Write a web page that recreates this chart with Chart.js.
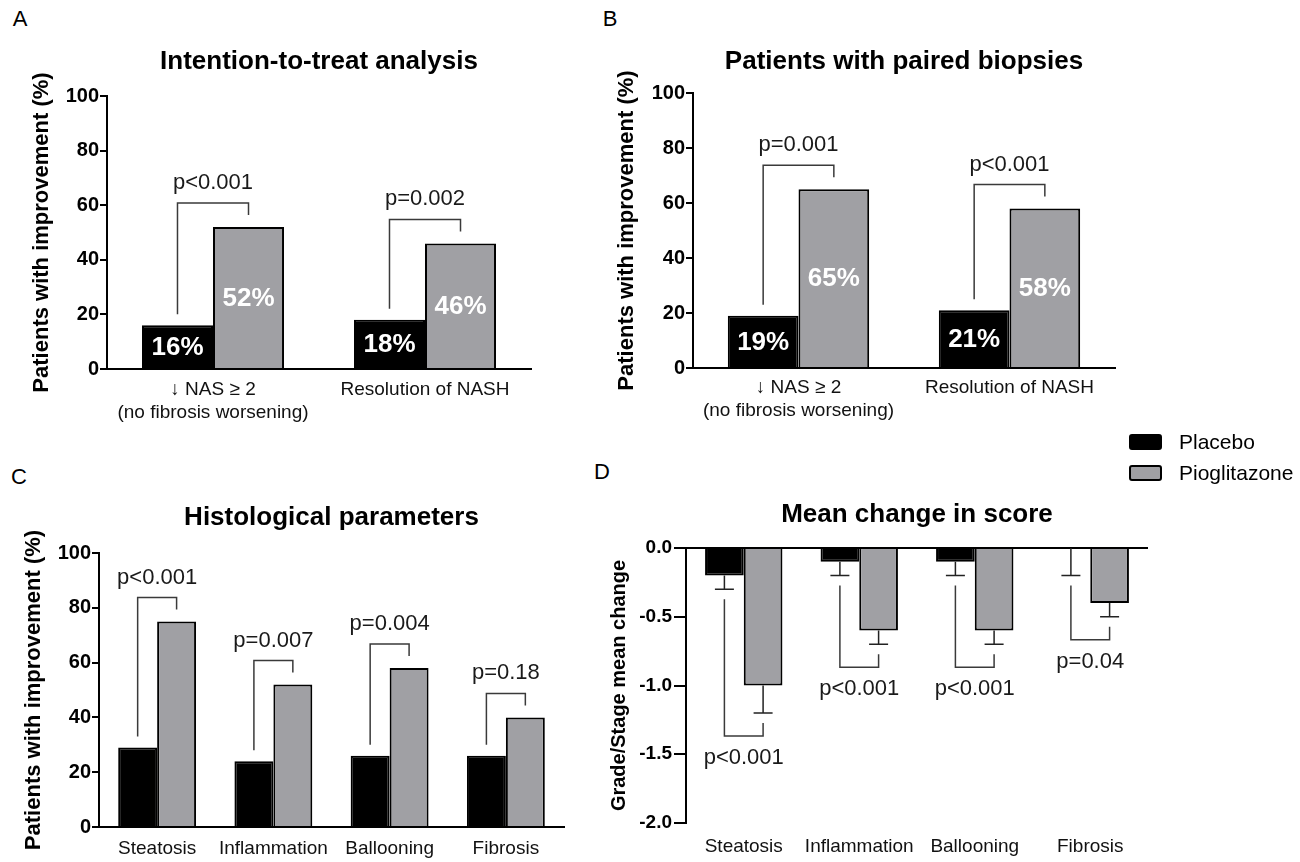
<!DOCTYPE html>
<html>
<head>
<meta charset="utf-8">
<title>Pioglitazone vs placebo</title>
<script src="https://cdn.jsdelivr.net/npm/chart.js@4.4.1/dist/chart.umd.min.js"></script>
<style>
  body { margin: 0; background: #fff; width: 1300px; height: 862px; position: relative; overflow: hidden;
         font-family: "Liberation Sans", Arial, Helvetica, sans-serif; }
  canvas { position: absolute; }
  .letter { position: absolute; font-size: 22px; color: #000; transform: translate(-50%, -50%); line-height: 1; }
</style>
</head>
<body>
<div class="letter" style="left:20px;top:19px">A</div>
<div class="letter" style="left:610px;top:19px">B</div>
<div class="letter" style="left:19px;top:477px">C</div>
<div class="letter" style="left:602px;top:472px">D</div>

<canvas id="chartA" width="560" height="430" style="left:0;top:0"></canvas>
<canvas id="chartB" width="740" height="430" style="left:560px;top:0"></canvas>
<canvas id="chartC" width="580" height="432" style="left:0;top:430px"></canvas>
<canvas id="chartD" width="720" height="432" style="left:580px;top:430px"></canvas>

<script>
const FONT = '"Liberation Sans", Arial, Helvetica, sans-serif';
Chart.defaults.font.family = FONT;
Chart.defaults.color = '#000';

// Серии
const seriesNames = ['Placebo', 'Pioglitazone'];
const seriesColors = ['#000000', '#a0a0a4'];

// A - intention-to-treat
const catsA = [['\u2193 NAS \u2265 2', '(no fibrosis worsening)'], 'Resolution of NASH'];
const placeboA = [16, 18];
const pioA = [52, 46];
const pvalA = ['p<0.001', 'p=0.002'];

// B - paired biopsies
const catsB = [['\u2193 NAS \u2265 2', '(no fibrosis worsening)'], 'Resolution of NASH'];
const placeboB = [19, 21];
const pioB = [65, 58];
const pvalB = ['p=0.001', 'p<0.001'];

// C - histological parameters
const catsC = ['Steatosis', 'Inflammation', 'Ballooning', 'Fibrosis'];
const placeboC = [29, 24, 26, 26];
const pioC = [75, 52, 58, 40];
const pvalC = ['p<0.001', 'p=0.007', 'p=0.004', 'p=0.18'];

// D - mean change in score
const catsD = ['Steatosis', 'Inflammation', 'Ballooning', 'Fibrosis'];
const placeboD = [-0.2, -0.1, -0.1, 0];
const pioD = [-1.0, -0.6, -0.6, -0.4];
const placeboErrD = [0.1, 0.1, 0.1, 0.2];
const pioErrD = [0.2, 0.1, 0.1, 0.1];
const pvalD = ['p<0.001', 'p<0.001', 'p<0.001', 'p=0.04'];

// Подписи процентов внутри столбцов
const barLabels = {
    id: 'barLabels',
    afterDatasetsDraw(chart, args, opts) {
        if (!opts.show) return;
        const ctx = chart.ctx;
        ctx.save();
        ctx.font = 'bold 26px ' + FONT;
        ctx.fillStyle = '#fff';
        ctx.textAlign = 'center';
        ctx.textBaseline = 'middle';
        chart.data.datasets.forEach((ds, i) => {
            chart.getDatasetMeta(i).data.forEach((bar, j) => {
                ctx.fillText(ds.data[j] + '%', bar.x, (bar.y + bar.base) / 2 + 1);
            });
        });
        ctx.restore();
    }
};

// Планки погрешностей (вниз)
const errorBars = {
    id: 'errorBars',
    afterDatasetsDraw(chart) {
        const ctx = chart.ctx;
        const y = chart.scales.y;
        ctx.save();
        ctx.strokeStyle = '#222';
        ctx.lineWidth = 1.5;
        chart.data.datasets.forEach((ds, i) => {
            if (!ds.errors) return;
            chart.getDatasetMeta(i).data.forEach((bar, j) => {
                const end = y.getPixelForValue(ds.data[j] - ds.errors[j]);
                ctx.beginPath();
                ctx.moveTo(bar.x, bar.y);
                ctx.lineTo(bar.x, end);
                ctx.moveTo(bar.x - 9.5, end);
                ctx.lineTo(bar.x + 9.5, end);
                ctx.stroke();
            });
        });
        ctx.restore();
    }
};

// Скобки с p-значениями
const brackets = {
    id: 'brackets',
    afterDatasetsDraw(chart, args, opts) {
        if (!opts.labels) return;
        const ctx = chart.ctx;
        const y = chart.scales.y;
        const [d0, d1] = chart.data.datasets;
        const m0 = chart.getDatasetMeta(0).data;
        const m1 = chart.getDatasetMeta(1).data;
        ctx.save();
        ctx.strokeStyle = '#3a3a3a';
        ctx.lineWidth = 1.5;
        ctx.fillStyle = '#1a1a1a';
        ctx.font = '22px ' + FONT;
        ctx.textAlign = 'center';
        ctx.textBaseline = 'middle';
        opts.labels.forEach((txt, j) => {
            const a = m0[j], b = m1[j];
            let ya, yb, yc, yt;
            if (opts.down) {
                ya = y.getPixelForValue(d0.data[j] - d0.errors[j]) + 10;
                yb = y.getPixelForValue(d1.data[j] - d1.errors[j]) + 10;
                yc = Math.max(ya, yb) + 13;
                yt = yc + 22;
            } else {
                ya = a.y - 11;
                yb = b.y - 12;
                yc = Math.min(a.y, b.y) - 24;
                yt = yc - 20;
            }
            ctx.beginPath();
            ctx.moveTo(a.x, ya);
            ctx.lineTo(a.x, yc);
            ctx.lineTo(b.x, yc);
            ctx.lineTo(b.x, yb);
            ctx.stroke();
            ctx.fillText(txt, (a.x + b.x) / 2, yt);
        });
        ctx.restore();
    }
};

// Легенда справа сверху
const sideLegend = {
    id: 'sideLegend',
    afterDraw(chart, args, opts) {
        if (opts.x === undefined) return;
        const ctx = chart.ctx;
        ctx.save();
        chart.data.datasets.forEach((ds, i) => {
            const yc = opts.y + i * opts.gap;
            ctx.fillStyle = ds.backgroundColor;
            ctx.strokeStyle = '#000';
            ctx.lineWidth = 2;
            ctx.beginPath();
            ctx.roundRect(opts.x + 1, yc - 7, 31, 14, 2);
            ctx.fill();
            ctx.stroke();
            ctx.fillStyle = '#000';
            ctx.font = '21px ' + FONT;
            ctx.textAlign = 'left';
            ctx.textBaseline = 'middle';
            ctx.fillText(ds.label, opts.x + 50, yc + 1);
        });
        ctx.restore();
    }
};

function buildChart(id, o) {
    return new Chart(document.getElementById(id), {
        type: 'bar',
        data: {
            labels: o.labels,
            datasets: [
                { label: seriesNames[0], data: o.placebo, backgroundColor: seriesColors[0],
                  borderColor: '#000', borderWidth: 2, errors: o.placeboErr },
                { label: seriesNames[1], data: o.pio, backgroundColor: seriesColors[1],
                  borderColor: '#000', borderWidth: 2, errors: o.pioErr }
            ]
        },
        options: {
            responsive: false,
            animation: false,
            layout: { padding: { left: 0, top: 0, right: o.padRight, bottom: 0 } },
            datasets: { bar: { categoryPercentage: 0.67, barPercentage: 1 } },
            plugins: {
                legend: { display: false },
                tooltip: { enabled: false },
                title: {
                    display: true, text: o.title, fullSize: false, color: '#000',
                    font: { size: 26, weight: 'bold', lineHeight: 1.2 },
                    padding: { top: o.titleTop, bottom: o.titleBottom }
                },
                barLabels: { show: !!o.pct },
                brackets: { labels: o.pvals, down: !!o.down },
                sideLegend: o.legend || {}
            },
            scales: {
                x: {
                    grid: { display: false, drawTicks: false },
                    border: { display: !o.down, color: '#000', width: 2 },
                    ticks: { color: '#111', font: { size: 19, lineHeight: 1.2 }, padding: o.xPad, maxRotation: 0 },
                    afterFit: s => { s.height = o.xHeight; }
                },
                y: {
                    min: o.min, max: o.max,
                    ticks: {
                        stepSize: o.step, color: '#000', padding: o.tickPad,
                        font: { size: o.tickSize, weight: 'bold' },
                        callback: v => o.down ? v.toFixed(1) : v
                    },
                    grid: {
                        drawOnChartArea: !!o.down,
                        color: c => (c.tick && c.tick.value === 0) ? '#000' : 'rgba(0,0,0,0)',
                        lineWidth: 2,
                        drawTicks: true, tickLength: o.tickLen, tickColor: '#000', tickWidth: 2
                    },
                    border: { display: true, color: '#000', width: 2 },
                    title: {
                        display: true, text: o.yTitle, color: '#000',
                        font: { size: o.yTitleSize, weight: 'bold', lineHeight: 1.2 },
                        padding: { top: o.yTitlePad, bottom: 0 }
                    },
                    afterFit: s => { s.width = o.yWidth; }
                }
            }
        },
        plugins: [barLabels, errorBars, brackets, sideLegend]
    });
}

buildChart('chartA', {
    labels: catsA, placebo: placeboA, pio: pioA, pvals: pvalA, pct: true,
    title: 'Intention-to-treat analysis', titleTop: 46.4, titleBottom: 18.4,
    padRight: 29, xHeight: 61, xPad: 9.6,
    min: 0, max: 100, step: 20, tickSize: 20, tickPad: 1, tickLen: 7,
    yTitle: 'Patients with improvement (%)', yTitleSize: 22, yTitlePad: 29, yWidth: 107
});

buildChart('chartB', {
    labels: catsB, placebo: placeboB, pio: pioB, pvals: pvalB, pct: true,
    title: 'Patients with paired biopsies', titleTop: 46.4, titleBottom: 15.4,
    padRight: 185, xHeight: 62, xPad: 8.6,
    min: 0, max: 100, step: 20, tickSize: 20, tickPad: 1, tickLen: 7,
    yTitle: 'Patients with improvement (%)', yTitleSize: 22, yTitlePad: 54, yWidth: 133
});

buildChart('chartC', {
    labels: catsC, placebo: placeboC, pio: pioC, pvals: pvalC,
    title: 'Histological parameters', titleTop: 72.4, titleBottom: 19.4,
    padRight: 16, xHeight: 35, xPad: 10.6,
    min: 0, max: 100, step: 20, tickSize: 20, tickPad: 1, tickLen: 7,
    yTitle: 'Patients with improvement (%)', yTitleSize: 22, yTitlePad: 21, yWidth: 99
});

buildChart('chartD', {
    labels: catsD, placebo: placeboD, pio: pioD, placeboErr: placeboErrD, pioErr: pioErrD,
    pvals: pvalD, down: true,
    title: 'Mean change in score', titleTop: 69.4, titleBottom: 17.4,
    padRight: 152, xHeight: 39, xPad: 12.6,
    min: -2, max: 0, step: 0.5, tickSize: 19, tickPad: 2, tickLen: 12,
    yTitle: 'Grade/Stage mean change', yTitleSize: 20, yTitlePad: 27, yWidth: 106,
    legend: { x: 549, y: 12, gap: 31 }
});
</script>
</body>
</html>
